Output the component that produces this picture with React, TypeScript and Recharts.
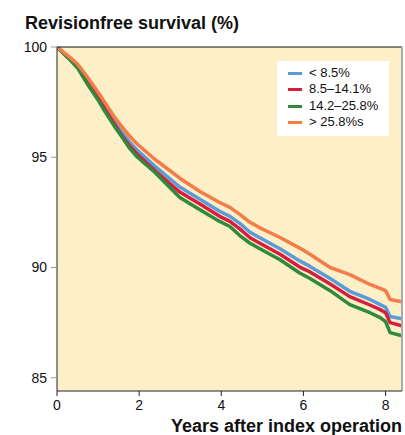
import React from 'react';
import { LineChart, Line, XAxis, YAxis, ReferenceArea, ReferenceLine } from 'recharts';

const years = [0, 0.3, 0.5, 0.74, 1.0, 1.16, 1.4, 1.57, 1.77, 1.96, 2.38, 2.99, 3.48, 3.96, 4.21, 4.45, 4.7, 4.94, 5.43, 5.91, 6.16, 6.65, 7.13, 7.62, 7.87, 8.0, 8.11, 8.4];

const below85 = [100, 99.5, 99.15, 98.5, 97.8, 97.3, 96.6, 96.15, 95.68, 95.3, 94.6, 93.65, 93.1, 92.55, 92.32, 92.0, 91.6, 91.35, 90.85, 90.3, 90.05, 89.5, 88.92, 88.55, 88.32, 88.2, 87.78, 87.68];
const from85to141 = [100, 99.48, 99.1, 98.42, 97.7, 97.2, 96.5, 96.0, 95.52, 95.12, 94.4, 93.42, 92.88, 92.32, 92.09, 91.75, 91.35, 91.1, 90.6, 90.02, 89.8, 89.25, 88.68, 88.3, 88.09, 87.95, 87.5, 87.36];
const from142to258 = [100, 99.45, 99.05, 98.32, 97.6, 97.09, 96.4, 95.95, 95.4, 95.0, 94.32, 93.18, 92.62, 92.09, 91.86, 91.45, 91.1, 90.85, 90.35, 89.75, 89.5, 88.95, 88.32, 87.95, 87.73, 87.55, 87.05, 86.9];
const above258 = [100, 99.55, 99.23, 98.64, 97.95, 97.5, 96.82, 96.41, 95.95, 95.59, 94.91, 94.05, 93.45, 92.95, 92.73, 92.41, 92.05, 91.8, 91.36, 90.88, 90.6, 90.0, 89.68, 89.23, 89.05, 88.95, 88.55, 88.45];

const xTicks = [0, 2, 4, 6, 8];
const yTicks = [85, 90, 95, 100];

const series = [
  { key: 'a', name: '< 8.5%', color: '#5a9bd8', values: below85 },
  { key: 'b', name: '8.5\u201314.1%', color: '#d81e3f', values: from85to141 },
  { key: 'c', name: '14.2\u201325.8%', color: '#2f8a3c', values: from142to258 },
  { key: 'd', name: '> 25.8%s', color: '#f47c48', values: above258 },
];

const chartData = years.map((t, i) => {
  const row: { [k: string]: number } = { t };
  series.forEach(s => { row[s.key] = s.values[i]; });
  return row;
});

const font = '"Liberation Sans", Arial, Helvetica, sans-serif';

const App: React.FC = () => {
  return (
    <div style={{ position: 'relative', width: 405, height: 435, fontFamily: font }}>
      <style>{`body{margin:0}`}</style>
      <LineChart width={405} height={435} data={chartData} margin={{ top: 47, right: 3, bottom: 0, left: 0 }}>
        <ReferenceArea x1={0} x2={8.4} y1={84.4} y2={100} fill="#fdefc8" fillOpacity={1} stroke="none" />
        <XAxis
          dataKey="t"
          type="number"
          domain={[0, 8.4]}
          ticks={xTicks}
          allowDataOverflow
          height={44}
          tickSize={5}
          tickMargin={4}
          stroke="#222"
          tick={{ fill: '#111', fontSize: 14, fontFamily: font }}
        />
        <YAxis
          type="number"
          domain={[84.4, 100]}
          ticks={yTicks}
          allowDataOverflow
          width={57}
          tickSize={6}
          tickMargin={4}
          stroke="#222"
          tickLine={{ stroke: '#999' }}
          tick={{ fill: '#111', fontSize: 14, fontFamily: font }}
        />
        {series.map(s => (
          <Line
            key={s.key}
            dataKey={s.key}
            name={s.name}
            stroke={s.color}
            strokeWidth={3.5}
            dot={false}
            type="linear"
            strokeLinejoin="round"
            isAnimationActive={false}
          />
        ))}
        <ReferenceLine y={100} stroke="#111" strokeWidth={1.2} />
        <ReferenceLine x={8.4} stroke="#aaa" strokeWidth={2} />
      </LineChart>

      <div style={{ position: 'absolute', left: 25, top: 14, fontSize: 18, lineHeight: '18px', fontWeight: 700, color: '#111', whiteSpace: 'nowrap' }}>
        Revisionfree survival (%)
      </div>

      <div style={{ position: 'absolute', right: 3, top: 417, fontSize: 18, lineHeight: '18px', fontWeight: 700, color: '#111', whiteSpace: 'nowrap' }}>
        Years after index operation
      </div>

      <div style={{ position: 'absolute', left: 277, top: 61, width: 112, height: 75, background: '#fff', boxSizing: 'border-box', paddingTop: 4 }}>
        {series.map(s => (
          <div key={s.key} style={{ position: 'relative', height: 16.3, lineHeight: '16.3px', fontSize: 13, color: '#111' }}>
            <span style={{ position: 'absolute', left: 11, top: 7, width: 14, height: 3, background: s.color }} />
            <span style={{ position: 'absolute', left: 32, top: 0, whiteSpace: 'nowrap' }}>{s.name}</span>
          </div>
        ))}
      </div>
    </div>
  );
};

export default App;
